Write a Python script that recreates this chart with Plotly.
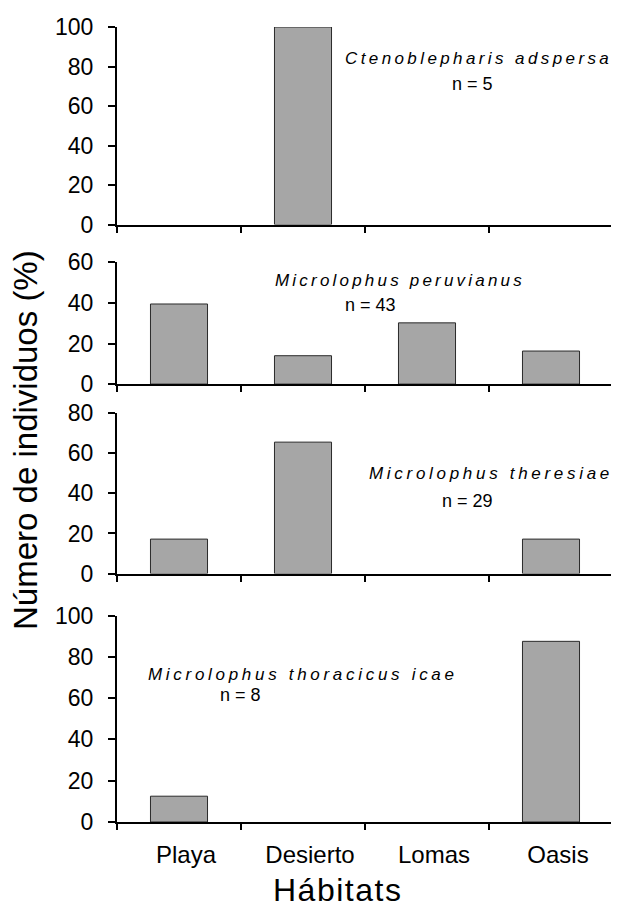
import plotly.graph_objects as go

# ---------------- data ----------------
categories = ["Playa", "Desierto", "Lomas", "Oasis"]
ctenoblepharis_adspersa = [0, 100, 0, 0]
microlophus_peruvianus = [39.5, 14.0, 30.2, 16.3]
microlophus_theresiae = [17.2, 65.5, 0, 17.2]
microlophus_thoracicus_icae = [12.5, 0, 0, 87.5]

species_names = ["Ctenoblepharis adspersa", "Microlophus peruvianus",
                 "Microlophus theresiae", "Microlophus thoracicus icae"]
sample_sizes = ["n = 5", "n = 43", "n = 29", "n = 8"]
y_max = [100, 60, 80, 100]
y_dtick = [20, 20, 20, 20]
x_title = "Hábitats"
y_title = "Número de individuos (%)"

series = [ctenoblepharis_adspersa, microlophus_peruvianus,
          microlophus_theresiae, microlophus_thoracicus_icae]

# ---------------- layout helpers ----------------
# the page body has an 8px margin, so the figure starts at (8, 8)
OFF = 8
W, H = 619 - OFF, 907 - OFF
ML, MR, MT, MB = 117 - OFF, 6, 25 - OFF, 85
PW = W - ML - MR
PH = H - MT - MB
BOTTOM = 822  # page y of the lowest x axis


def px(x):
    """page x pixel -> paper fraction"""
    return (x - 117) / PW


def py(y):
    """page y pixel -> paper fraction"""
    return (BOTTOM - y) / PH


# panel pixel extents on the page (top, bottom)
panel_px = [(25, 223), (261, 383), (412, 573), (615, 822)]

FONT = "Liberation Sans, Arial, sans-serif"

fig = go.Figure()
layout = dict(
    width=W, height=H,
    margin=dict(l=ML, r=MR, t=MT, b=MB),
    paper_bgcolor="white", plot_bgcolor="white",
    showlegend=False,
    font=dict(family=FONT, color="black"),
)

for i, vals in enumerate(series):
    k = "" if i == 0 else str(i + 1)
    fig.add_trace(go.Bar(
        x=categories, y=[v if v else None for v in vals],
        xaxis="x" + k, yaxis="y" + k,
        marker=dict(color="#a6a6a6", line=dict(color="#2a2a2a", width=1)),
        width=0.46,
        hoverinfo="x+y",
    ))
    top, bot = panel_px[i]
    layout["xaxis" + k] = dict(
        domain=[0, 1], anchor="y" + k,
        type="category", categoryorder="array", categoryarray=categories,
        range=[-0.5, 3.5],
        showline=True, linecolor="black", linewidth=2,
        ticks="outside", tickson="boundaries", ticklen=6, tickwidth=2,
        tickcolor="black",
        showgrid=False, zeroline=False,
        showticklabels=(i == 3),
        tickfont=dict(size=24, family=FONT, color="black"),
        ticklabelstandoff=10,
        ticklabelshift=7,
        fixedrange=True,
    )
    layout["yaxis" + k] = dict(
        domain=[py(bot), py(top)], anchor="x" + k,
        range=[0, y_max[i]], dtick=y_dtick[i], tick0=0,
        showline=True, linecolor="black", linewidth=2,
        ticks="outside", ticklen=7, tickwidth=2, tickcolor="black",
        showgrid=False, zeroline=False,
        tickfont=dict(size=23, family=FONT, color="black"),
        ticklabelstandoff=10,
        fixedrange=True,
    )

fig.update_layout(**layout)

# species labels (page pixel centers)
name_pos = [(478, 57), (400, 279), (491, 473), (303, 674)]
n_pos = [(472, 82), (370, 304), (467, 500), (240, 695)]
spacing = [3.4, 3.2, 3.7, 3.7]

ann = []
for i in range(4):
    ann.append(dict(
        x=px(name_pos[i][0]), y=py(name_pos[i][1]), xref="paper", yref="paper",
        text='<span style="letter-spacing:%.1fpx">%s</span>' % (spacing[i], species_names[i]),
        font=dict(size=17, family=FONT, color="black", style="italic"),
        showarrow=False, xanchor="center", yanchor="middle",
    ))
    ann.append(dict(
        x=px(n_pos[i][0]), y=py(n_pos[i][1]), xref="paper", yref="paper",
        text=sample_sizes[i],
        font=dict(size=18, family=FONT, color="black"),
        showarrow=False, xanchor="center", yanchor="middle",
    ))

ann.append(dict(
    x=px(337), y=py(890), xref="paper", yref="paper",
    text='<span style="letter-spacing:1.5px">%s</span>' % x_title,
    font=dict(size=32, family=FONT, color="black"),
    showarrow=False, xanchor="center", yanchor="middle",
))
ann.append(dict(
    x=px(26), y=py(439), xref="paper", yref="paper",
    text=y_title, textangle=-90,
    font=dict(size=33, family=FONT, color="black"),
    showarrow=False, xanchor="center", yanchor="middle",
))
fig.update_layout(annotations=ann)

fig.write_html("out.html")
